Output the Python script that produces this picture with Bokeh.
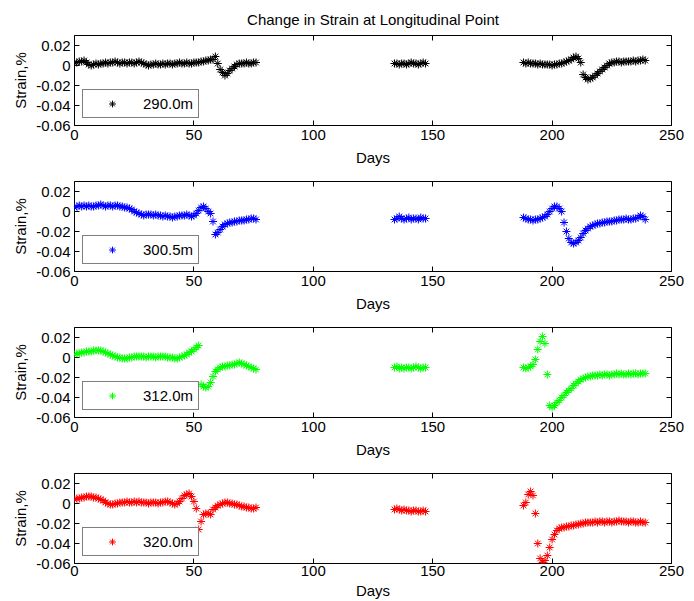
from bokeh.plotting import figure
from bokeh.layouts import column
from bokeh.models import (LinearAxis, FixedTicker, Legend, LegendItem, Range1d,
                          CustomLabelingPolicy)
from bokeh.embed import file_html
from bokeh.resources import INLINE

FONT = "Liberation Sans"

title_text = "Change in Strain at Longitudinal Point"
x_label = "Days"
y_label = "Strain,%"
x_ticks = [0, 50, 100, 150, 200, 250]
x_tick_labels = ["0", "50", "100", "150", "200", "250"]
y_ticks = [-0.06, -0.04, -0.02, 0, 0.02]
y_tick_labels = ["-0.06", "-0.04", "-0.02", "0", "0.02"]

# sample days (daily readings in three campaigns)
days_seg1 = list(range(0, 77))
days_seg2 = list(range(134, 148))
days_seg3 = list(range(188, 240))

series_names = ["290.0m", "300.5m", "312.0m", "320.0m"]
colors = ["#000000", "#0000FF", "#00FF00", "#FF0000"]

s290_a = [0.003, 0.003, 0.004, 0.004, 0.005, 0.003, 0.001, 0.000, 0.001, 0.002,
          0.001, 0.002, 0.002, 0.003, 0.002, 0.003, 0.003, 0.004, 0.003, 0.002,
          0.003, 0.003, 0.002, 0.003, 0.003, 0.002, 0.003, 0.004, 0.003, 0.002,
          0.001, 0.000, 0.001, 0.001, 0.002, 0.001, 0.001, 0.002, 0.001, 0.002,
          0.002, 0.001, 0.002, 0.002, 0.003, 0.002, 0.002, 0.003, 0.002, 0.002,
          0.003, 0.003, 0.003, 0.004, 0.004, 0.005, 0.005, 0.006, 0.006, 0.009,
          0.002, -0.004, -0.007, -0.010, -0.008, -0.005, -0.003, -0.001, 0.001, 0.002,
          0.002, 0.002, 0.003, 0.002, 0.002, 0.003, 0.003]
s290_b = [0.002, 0.002, 0.001, 0.002, 0.002, 0.001, 0.002, 0.003, 0.002, 0.002,
          0.001, 0.002, 0.003, 0.002]
s290_c = [0.003, 0.002, 0.003, 0.002, 0.002, 0.002, 0.001, 0.002, 0.001, 0.001,
          0.001, 0.001, 0.000, 0.001, 0.001, 0.002, 0.002, 0.003, 0.004, 0.005,
          0.006, 0.008, 0.009, 0.007, 0.003, -0.009, -0.012, -0.014, -0.013, -0.012,
          -0.010, -0.008, -0.006, -0.004, -0.002, 0.000, 0.002, 0.003, 0.003, 0.004,
          0.004, 0.003, 0.004, 0.004, 0.004, 0.004, 0.005, 0.004, 0.005, 0.005,
          0.006, 0.005]

s300_a = [0.004, 0.005, 0.006, 0.005, 0.006, 0.005, 0.006, 0.005, 0.005, 0.006,
          0.006, 0.007, 0.006, 0.005, 0.006, 0.006, 0.005, 0.006, 0.006, 0.005,
          0.005, 0.004, 0.004, 0.003, 0.002, 0.000, -0.001, -0.002, -0.003, -0.004,
          -0.003, -0.003, -0.003, -0.004, -0.003, -0.004, -0.004, -0.005, -0.004, -0.005,
          -0.005, -0.006, -0.005, -0.005, -0.004, -0.004, -0.004, -0.003, -0.004, -0.005,
          -0.004, -0.002, 0.001, 0.004, 0.005, 0.003, 0.000, -0.002, -0.010, -0.023,
          -0.021, -0.018, -0.015, -0.013, -0.012, -0.011, -0.011, -0.010, -0.010, -0.009,
          -0.009, -0.009, -0.008, -0.008, -0.007, -0.007, -0.008]
s300_b = [-0.008, -0.007, -0.005, -0.007, -0.008, -0.007, -0.006, -0.008, -0.007, -0.007,
          -0.008, -0.006, -0.007, -0.007]
s300_c = [-0.006, -0.007, -0.008, -0.008, -0.009, -0.008, -0.008, -0.007, -0.006, -0.005,
          -0.003, 0.000, 0.003, 0.005, 0.005, 0.003, 0.000, -0.011, -0.020, -0.027,
          -0.031, -0.032, -0.031, -0.029, -0.026, -0.022, -0.019, -0.017, -0.015, -0.014,
          -0.013, -0.012, -0.012, -0.011, -0.011, -0.010, -0.010, -0.010, -0.009, -0.009,
          -0.008, -0.008, -0.008, -0.007, -0.008, -0.008, -0.007, -0.007, -0.006, -0.004,
          -0.005, -0.008]

s312_a = [0.003, 0.004, 0.004, 0.005, 0.005, 0.006, 0.006, 0.006, 0.007, 0.007,
          0.007, 0.007, 0.006, 0.005, 0.004, 0.003, 0.002, 0.001, 0.000, 0.000,
          -0.001, -0.001, -0.001, 0.000, 0.000, 0.001, 0.001, 0.001, 0.001, 0.001,
          0.000, 0.001, 0.001, 0.001, 0.000, 0.001, 0.001, 0.001, 0.001, 0.000,
          0.000, 0.000, -0.001, -0.001, 0.000, 0.001, 0.002, 0.003, 0.005, 0.006,
          0.008, 0.010, 0.012, -0.027, -0.029, -0.030, -0.029, -0.025, -0.019, -0.014,
          -0.012, -0.010, -0.009, -0.009, -0.008, -0.008, -0.007, -0.007, -0.006, -0.005,
          -0.006, -0.007, -0.008, -0.009, -0.010, -0.011, -0.012]
s312_b = [-0.010, -0.009, -0.011, -0.010, -0.011, -0.010, -0.010, -0.011, -0.010, -0.009,
          -0.010, -0.011, -0.010, -0.010]
s312_c = [-0.010, -0.011, -0.010, -0.009, -0.007, -0.002, 0.008, 0.016, 0.021, 0.014,
          -0.017, -0.048, -0.050, -0.048, -0.045, -0.043, -0.040, -0.038, -0.035, -0.033,
          -0.031, -0.028, -0.026, -0.024, -0.022, -0.021, -0.020, -0.019, -0.019, -0.018,
          -0.018, -0.018, -0.017, -0.018, -0.017, -0.017, -0.018, -0.017, -0.017, -0.016,
          -0.017, -0.016, -0.017, -0.017, -0.016, -0.017, -0.016, -0.016, -0.017, -0.016,
          -0.016, -0.016]

s320_a = [0.004, 0.005, 0.005, 0.006, 0.006, 0.007, 0.007, 0.007, 0.006, 0.006,
          0.005, 0.004, 0.003, 0.001, 0.000, -0.001, -0.001, 0.000, 0.000, 0.001,
          0.001, 0.001, 0.002, 0.001, 0.001, 0.002, 0.001, 0.002, 0.001, 0.001,
          0.001, 0.000, 0.001, 0.001, 0.001, 0.000, 0.001, 0.001, 0.002, 0.002,
          0.001, 0.000, -0.001, 0.000, 0.002, 0.005, 0.008, 0.009, 0.010, 0.007,
          0.002, -0.005, -0.026, -0.018, -0.011, -0.010, -0.010, -0.011, -0.006, -0.004,
          -0.002, -0.001, 0.000, 0.001, 0.001, 0.000, 0.000, -0.001, -0.001, -0.002,
          -0.003, -0.003, -0.004, -0.004, -0.005, -0.005, -0.004]
s320_b = [-0.006, -0.005, -0.006, -0.007, -0.006, -0.007, -0.007, -0.008, -0.007, -0.007,
          -0.008, -0.008, -0.007, -0.008]
s320_c = [-0.002, 0.001, 0.009, 0.012, 0.008, -0.010, -0.040, -0.055, -0.059, -0.057,
          -0.052, -0.044, -0.036, -0.031, -0.027, -0.025, -0.024, -0.024, -0.023, -0.023,
          -0.022, -0.022, -0.021, -0.021, -0.020, -0.020, -0.019, -0.019, -0.019, -0.019,
          -0.018, -0.019, -0.018, -0.018, -0.019, -0.018, -0.018, -0.019, -0.018, -0.018,
          -0.017, -0.018, -0.018, -0.018, -0.019, -0.018, -0.018, -0.019, -0.019, -0.018,
          -0.019, -0.019]

series_values = [
    (s290_a, s290_b, s290_c),
    (s300_a, s300_b, s300_c),
    (s312_a, s312_b, s312_c),
    (s320_a, s320_b, s320_c),
]

days_all = days_seg1 + days_seg2 + days_seg3

x_over = {t: l for t, l in zip(x_ticks, x_tick_labels)}
y_over = {t: l for t, l in zip(y_ticks, y_tick_labels)}

heights = [171, 146, 146, 138]
tops = [35, 10, 10, 10]
bottoms = [46, 46, 46, 38]
tick_standoffs = [4, 4, 4, 2]
label_standoffs = [6, 6, 6, 3]

HIDE_LABELS = "for (const i of indices) { indices.unset(i) }\nreturn indices"


def style_axis(ax, show_labels):
    ax.axis_line_color = None
    ax.major_tick_in = 5
    ax.major_tick_out = 0
    ax.major_tick_line_color = "#000000"
    ax.minor_tick_line_color = None
    ax.major_label_text_font = FONT
    if show_labels:
        ax.major_label_text_font_size = "15px"
        ax.major_label_text_color = "#000000"
        ax.major_label_standoff = 4
        ax.axis_label_text_font = FONT
        ax.axis_label_text_font_size = "15px"
        ax.axis_label_text_font_style = "normal"
        ax.axis_label_text_color = "#000000"
        ax.axis_label_standoff = 6
    else:
        ax.major_label_text_font_size = "2px"
        ax.major_label_standoff = 0
        ax.major_label_policy = CustomLabelingPolicy(code=HIDE_LABELS)


figs = []
for i in range(4):
    p = figure(width=686, height=heights[i],
               x_range=Range1d(0, 250), y_range=Range1d(-0.06, 0.03),
               output_backend="svg", toolbar_location=None,
               min_border_left=74, min_border_right=15,
               min_border_top=tops[i], min_border_bottom=bottoms[i],
               background_fill_color="white", border_fill_color="white")
    p.grid.visible = False
    p.outline_line_color = "#000000"
    p.outline_line_width = 1

    top_ax = LinearAxis()
    right_ax = LinearAxis()
    p.add_layout(top_ax, "above")
    p.add_layout(right_ax, "right")

    for ax in p.xaxis:
        ax.ticker = FixedTicker(ticks=x_ticks)
        ax.major_label_overrides = x_over
    for ax in p.yaxis:
        ax.ticker = FixedTicker(ticks=y_ticks)
        ax.major_label_overrides = y_over

    style_axis(p.below[0], True)
    style_axis(p.left[0], True)
    style_axis(top_ax, False)
    style_axis(right_ax, False)
    p.below[0].axis_label = x_label
    p.below[0].major_label_standoff = tick_standoffs[i]
    p.below[0].axis_label_standoff = label_standoffs[i]
    p.left[0].axis_label = y_label
    p.left[0].axis_label_standoff = 4

    if i == 0:
        p.title.text = title_text
        p.title.align = "center"
        p.title.text_font = FONT
        p.title.text_font_size = "15px"
        p.title.text_font_style = "normal"
        p.title.text_color = "#000000"
        p.title.standoff = 7

    a, b, c = series_values[i]
    r = p.scatter(days_all, a + b + c, marker="asterisk", size=8,
                  line_color=colors[i], line_width=1)

    legend = Legend(items=[LegendItem(label=series_names[i], renderers=[r])],
                    location=(8, 7), margin=0, padding=5,
                    glyph_width=48, glyph_height=17, label_height=17,
                    label_width=50, label_standoff=7, spacing=0,
                    label_text_font=FONT, label_text_font_size="15px",
                    label_text_color="#000000",
                    border_line_color="#000000", border_line_width=1,
                    background_fill_color="white", background_fill_alpha=1.0)
    p.add_layout(legend)
    figs.append(p)

layout = column(*figs, spacing=0)

open("out.html", "w").write(file_html(layout, INLINE))
